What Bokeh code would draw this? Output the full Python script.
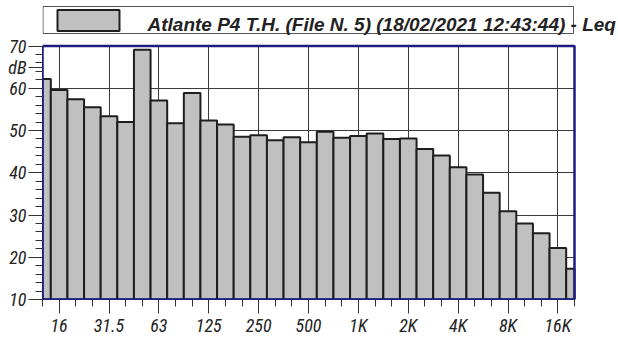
import numpy as np
from bokeh.plotting import figure
from bokeh.models import Range1d, FixedTicker, Label, BoxAnnotation, ColumnDataSource
from bokeh.embed import file_html
from bokeh.resources import INLINE

bands = ["12.5", "16", "20", "25", "31.5", "40", "50", "63", "80", "100", "125",
         "160", "200", "250", "315", "400", "500", "630", "800", "1K", "1.25K",
         "1.6K", "2K", "2.5K", "3.15K", "4K", "5K", "6.3K", "8K", "10K", "12.5K",
         "16K", "20K"]
leq = [62.2, 59.6, 57.4, 55.5, 53.4, 52.0, 69.1, 57.1, 51.7, 58.9, 52.4,
       51.4, 48.5, 48.9, 47.7, 48.4, 47.2, 49.7, 48.3, 48.7, 49.3,
       48.0, 48.1, 45.6, 44.1, 41.3, 39.6, 35.3, 30.9, 28.0, 25.7,
       22.2, 17.3]
x_labels = ["16", "31.5", "63", "125", "250", "500", "1K", "2K", "4K", "8K", "16K"]
y_ticks = [10, 20, 30, 40, 50, 60, 70]
y_minor = [v for v in range(10, 71, 2) if v % 10 != 0]
y_min, y_max = 10, 70
legend_text = "Atlante P4 T.H.  (File N. 5) (18/02/2021 12:43:44) - Leq"
y_unit = "dB"
y_unit_pos = 65

NARROW = "Roboto Condensed"
NAVY = "#1c1c82"
BAR_FILL = "#c0c0c0"
BAR_LINE = "#1e1e1e"

# layout (canvas pixels)
W, H = 618, 338
FRAME_L, FRAME_R, FRAME_T, FRAME_B = 42, 574, 46, 302

n = len(bands)
idx = np.arange(n)
x_end = (n - 1) * (W - FRAME_L) / (FRAME_R - FRAME_L)      # frame extends to canvas edge
y_end = y_max + FRAME_T * (y_max - y_min) / (FRAME_B - FRAME_T)  # frame extends to top

src = ColumnDataSource(dict(left=np.maximum(idx - 0.5, 0),
                            right=np.minimum(idx + 0.5, n - 1),
                            bottom=[y_min] * n, top=leq))

p = figure(width=W, height=H, output_backend="svg", toolbar_location=None,
           x_range=Range1d(0, x_end), y_range=Range1d(y_min, y_end),
           min_border_left=FRAME_L, min_border_right=0, min_border_top=0,
           min_border_bottom=H - FRAME_B)
p.background_fill_color = "white"
p.border_fill_color = "white"
p.outline_line_color = None

p.quad(left="left", right="right", bottom="bottom", top="top", source=src,
       fill_color=BAR_FILL, line_color=BAR_LINE, line_width=2)

major_idx = [bands.index(l) for l in x_labels]
p.xaxis.ticker = FixedTicker(ticks=major_idx, minor_ticks=list(idx))
p.xaxis.major_label_overrides = {i: bands[i] for i in major_idx}
p.xaxis.bounds = (0, n - 1)
p.yaxis.ticker = FixedTicker(ticks=y_ticks + [y_unit_pos], minor_ticks=y_minor)
p.yaxis.major_label_overrides = {y_unit_pos: y_unit}
p.yaxis.bounds = (y_min, y_max)

for ax in (p.xaxis[0], p.yaxis[0]):
    ax.axis_line_color = NAVY
    ax.axis_line_width = 1
    ax.major_tick_line_color = "#333333"
    ax.minor_tick_line_color = "#333333"
    ax.major_tick_out = 14
    ax.major_tick_in = 0
    ax.minor_tick_out = 7
    ax.minor_tick_in = 0
    ax.major_label_text_font = NARROW
    ax.major_label_text_font_style = "italic"
    ax.major_label_text_font_size = "18px"
    ax.major_label_text_color = "#222222"
p.xaxis.major_label_standoff = 1
p.yaxis.major_label_standoff = 2

p.xgrid.ticker = FixedTicker(ticks=major_idx)
p.ygrid.ticker = FixedTicker(ticks=y_ticks)
for g in (p.xgrid[0], p.ygrid[0]):
    g.grid_line_color = "#3a3a3a"
    g.grid_line_width = 1
p.xgrid.cross_bounds = (y_min, y_max)
p.ygrid.cross_bounds = (0, n - 1)

# navy plot-area border
p.add_layout(BoxAnnotation(left=0, right=n - 1, bottom=y_min, top=y_max,
                           fill_alpha=0, line_color=NAVY, line_alpha=1.0,
                           line_width=2.5))

# legend box, swatch and text (canvas pixels)
p.add_layout(BoxAnnotation(left=42.5, right=573, top=6, bottom=33,
                           left_units="canvas", right_units="canvas",
                           top_units="canvas", bottom_units="canvas",
                           fill_color="white", fill_alpha=1.0,
                           line_color="#555555", line_alpha=1.0, line_width=1))
p.add_layout(BoxAnnotation(left=57, right=119, top=9.5, bottom=30.5,
                           left_units="canvas", right_units="canvas",
                           top_units="canvas", bottom_units="canvas",
                           fill_color=BAR_FILL, fill_alpha=1.0,
                           line_color=BAR_LINE, line_alpha=1.0, line_width=2))
p.add_layout(Label(x=147, y=24, x_units="canvas", y_units="canvas", text=legend_text,
                   text_align="left", text_baseline="alphabetic",
                   text_font="Liberation Sans", text_font_style="bold italic",
                   text_font_size="19px", text_color="#222222"))

open("out.html", "w").write(file_html(p, INLINE))
